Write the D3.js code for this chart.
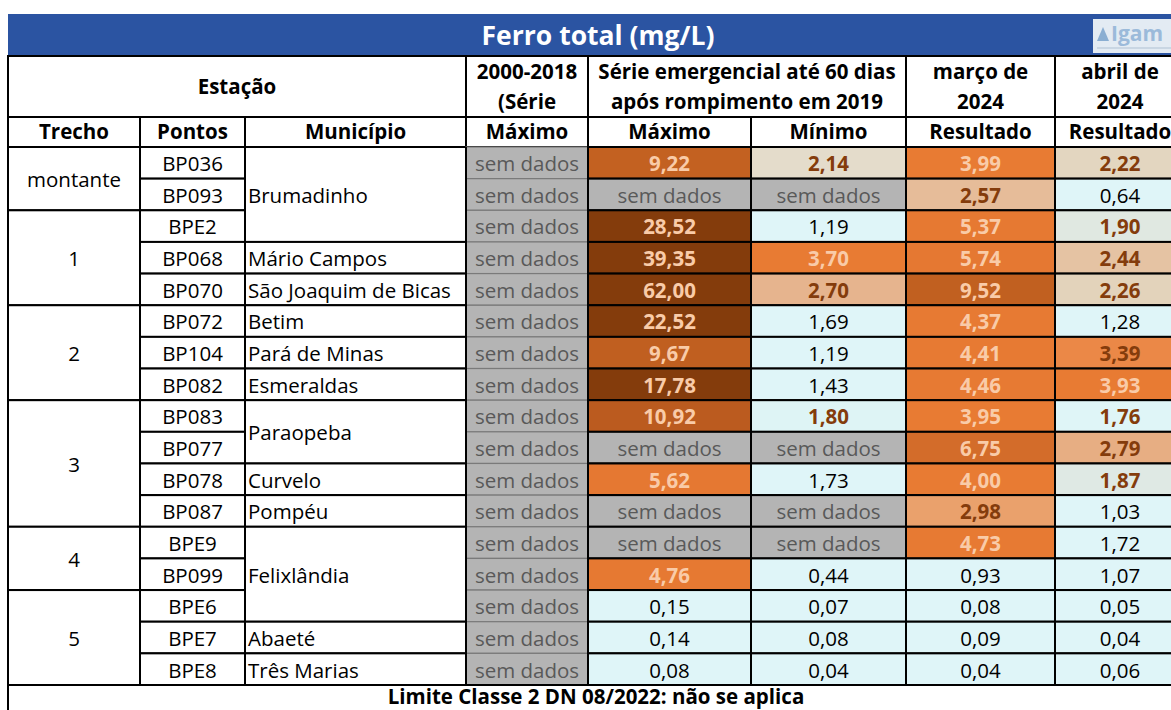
<!DOCTYPE html>
<html>
<head>
<meta charset="utf-8">
<script src="https://cdn.jsdelivr.net/npm/d3@7"></script>
<style>
  body { margin: 0; background: #fff; }
  text { font-family: "Open Sans", Lato, sans-serif; }
</style>
</head>
<body>
<svg class="chart"></svg>
<script>
// table data
var trechos = ["montante", "1", "2", "3", "4", "5"];
var trechoSpans = [2, 3, 3, 4, 2, 3];

var pontos = ["BP036", "BP093", "BPE2", "BP068", "BP070", "BP072", "BP104", "BP082",
              "BP083", "BP077", "BP078", "BP087", "BPE9", "BP099", "BPE6", "BPE7", "BPE8"];

var municipios = ["Brumadinho", "Mário Campos", "São Joaquim de Bicas", "Betim", "Pará de Minas",
                  "Esmeraldas", "Paraopeba", "Curvelo", "Pompéu", "Felixlândia", "Abaeté", "Três Marias"];
var municipioSpans = [3, 1, 1, 1, 1, 1, 2, 1, 1, 3, 1, 1];

// null = sem dados
var serieMax2018 = [null, null, null, null, null, null, null, null, null, null, null, null, null, null, null, null, null];
var emergMax = [9.22, null, 28.52, 39.35, 62.00, 22.52, 9.67, 17.78, 10.92, null, 5.62, null, null, 4.76, 0.15, 0.14, 0.08];
var emergMin = [2.14, null, 1.19, 3.70, 2.70, 1.69, 1.19, 1.43, 1.80, null, 1.73, null, null, 0.44, 0.07, 0.08, 0.04];
var marco2024 = [3.99, 2.57, 5.37, 5.74, 9.52, 4.37, 4.41, 4.46, 3.95, 6.75, 4.00, 2.98, 4.73, 0.93, 0.08, 0.09, 0.04];
var abril2024 = [2.22, 0.64, 1.90, 2.44, 2.26, 1.28, 3.39, 3.93, 1.76, 2.79, 1.87, 1.03, 1.72, 1.07, 0.05, 0.04, 0.06];

var titulo = "Ferro total (mg/L)";
var rodape = "Limite Classe 2 DN 08/2022: não se aplica";

var colKeys = ["trecho", "pontos", "municipio", "max2018", "emergMax", "emergMin", "marco", "abril"];
var colWidths = [132, 105, 221, 122, 163, 155, 149, 130];
var subHeaders = ["Trecho", "Pontos", "Município", "Máximo", "Máximo", "Mínimo", "Resultado", "Resultado"];

var Width = 1171, Height = 710,
    left = 8,
    titleTop = 14, titleBottom = 56,
    head1Top = 56, head2Top = 117, bodyTop = 147, bodyBottom = 685,
    fontSize = 20.5;

var chart = d3.select(".chart")
    .attr("width", Width)
    .attr("height", Height);

// column scale: key -> left edge
var edges = [left].concat(Array.from(d3.cumsum(colWidths)).map(function(d) { return d + left; }));
var x = d3.scaleOrdinal().domain(colKeys).range(edges.slice(0, -1));
var w = d3.scaleOrdinal().domain(colKeys).range(colWidths);
var tableRight = edges[edges.length - 1];

// row scale
var y = d3.scaleBand()
    .domain(d3.range(pontos.length))
    .range([bodyTop, bodyBottom]);

// colour ramp for the values
var fill = d3.scaleLinear()
    .domain([1.75, 1.8, 1.87, 2.14, 2.26, 2.44, 2.7, 2.98, 3.39, 3.7, 5.8, 6.75, 9.5, 11, 17])
    .range(["#dff5f8", "#def4f5", "#dfe9e4", "#e4dccb", "#e3d3bb", "#e5c3a3", "#e6b48e", "#eaa16c",
            "#eb8847", "#e87b33", "#e57832", "#d36c2a", "#c16020", "#bb5b1f", "#843c0c"])
    .clamp(true);

function fmt(v) { return d3.format(".2f")(v).replace(".", ","); }

function textColor(v) {
  if (v == null) return "#595959";
  if (v >= 3.5) return "#f9cba8";
  if (v > 1.75) return "#843c0c";
  return "#000";
}

// title bar
chart.append("rect")
    .attr("x", left).attr("y", titleTop)
    .attr("width", Width - left).attr("height", titleBottom - titleTop)
    .attr("fill", "#2b54a2");

chart.append("text")
    .attr("x", 598).attr("y", (titleTop + titleBottom) / 2)
    .attr("dy", ".36em")
    .attr("text-anchor", "middle")
    .attr("fill", "#fff")
    .attr("font-weight", "bold")
    .attr("font-size", 26.5)
    .text(titulo);

// logo
var logo = chart.append("g").attr("transform", "translate(1093,19)");
logo.append("rect").attr("width", 80).attr("height", 34).attr("fill", "#e3ebf3");
logo.append("path").attr("d", "M4,22 L10,8 L16,22 Z").attr("fill", "#8aaed2");
logo.append("text").attr("x", 18).attr("y", 22)
    .attr("font-size", 21).attr("font-weight", "bold").attr("fill", "#9bbada")
    .text("Igam");
logo.append("line").attr("x1", 4).attr("x2", 78).attr("y1", 29).attr("y2", 29)
    .attr("stroke", "#c9d6e3").attr("stroke-width", 2);

// header row 1
var head1 = [
  {x0: "trecho", x1: "municipio", lines: ["Estação"]},
  {x0: "max2018", x1: "max2018", lines: ["2000-2018", "(Série"]},
  {x0: "emergMax", x1: "emergMin", lines: ["Série emergencial até 60 dias", "após rompimento em 2019"]},
  {x0: "marco", x1: "marco", lines: ["março de", "2024"]},
  {x0: "abril", x1: "abril", lines: ["abril de", "2024"]}
];

var h1 = chart.selectAll("g.head1")
    .data(head1)
    .enter().append("g")
    .attr("class", "head1");

h1.append("rect")
    .attr("x", function(d) { return x(d.x0); })
    .attr("y", head1Top)
    .attr("width", function(d) { return x(d.x1) + w(d.x1) - x(d.x0); })
    .attr("height", head2Top - head1Top)
    .attr("fill", "#fff").attr("stroke", "#000").attr("stroke-width", 2);

h1.each(function(d) {
  var g = d3.select(this), cx = x(d.x0) + (x(d.x1) + w(d.x1) - x(d.x0)) / 2;
  d.lines.forEach(function(t, i) {
    var ty = d.lines.length == 1 ? (head1Top + head2Top) / 2 : head1Top + 16 + i * 30;
    g.append("text")
        .attr("x", cx).attr("y", ty)
        .attr("dy", ".36em")
        .attr("text-anchor", "middle")
        .attr("font-weight", "bold").attr("font-size", fontSize)
        .text(t);
  });
});

// header row 2
var h2 = chart.selectAll("g.head2")
    .data(colKeys)
    .enter().append("g")
    .attr("class", "head2");

h2.append("rect")
    .attr("x", function(d) { return x(d); })
    .attr("y", head2Top)
    .attr("width", function(d) { return w(d); })
    .attr("height", bodyTop - head2Top)
    .attr("fill", "#fff").attr("stroke", "#000").attr("stroke-width", 2);

h2.append("text")
    .attr("x", function(d) { return x(d) + w(d) / 2; })
    .attr("y", (head2Top + bodyTop) / 2)
    .attr("dy", ".36em")
    .attr("text-anchor", "middle")
    .attr("font-weight", "bold").attr("font-size", fontSize)
    .text(function(d, i) { return subHeaders[i]; });

// merged cells helper
function spans(labels, sizes) {
  var start = 0;
  return labels.map(function(l, i) {
    var s = {label: l, start: start, end: start + sizes[i] - 1};
    start += sizes[i];
    return s;
  });
}

function mergedColumn(key, data, anchor) {
  var g = chart.selectAll("g." + key)
      .data(data)
      .enter().append("g")
      .attr("class", key);

  g.append("rect")
      .attr("x", x(key))
      .attr("y", function(d) { return y(d.start); })
      .attr("width", w(key))
      .attr("height", function(d) { return y(d.end) + y.bandwidth() - y(d.start); })
      .attr("fill", "#fff").attr("stroke", "#000").attr("stroke-width", 2);

  g.append("text")
      .attr("x", anchor == "start" ? x(key) + 3 : x(key) + w(key) / 2)
      .attr("y", function(d) { return (y(d.start) + y(d.end) + y.bandwidth()) / 2 + 1; })
      .attr("dy", ".36em")
      .attr("text-anchor", anchor)
      .attr("font-size", fontSize)
      .text(function(d) { return d.label; });
}

mergedColumn("trecho", spans(trechos, trechoSpans), "middle");
mergedColumn("municipio", spans(municipios, municipioSpans), "start");

// pontos
var pt = chart.selectAll("g.ponto")
    .data(pontos)
    .enter().append("g")
    .attr("class", "ponto");

pt.append("rect")
    .attr("x", x("pontos"))
    .attr("y", function(d, i) { return y(i); })
    .attr("width", w("pontos"))
    .attr("height", y.bandwidth())
    .attr("fill", "#fff").attr("stroke", "#000").attr("stroke-width", 2);

pt.append("text")
    .attr("x", x("pontos") + w("pontos") / 2)
    .attr("y", function(d, i) { return y(i) + y.bandwidth() / 2 + 1; })
    .attr("dy", ".36em")
    .attr("text-anchor", "middle")
    .attr("font-size", fontSize)
    .text(function(d) { return d; });

// value columns
var valueCols = [
  {key: "max2018", values: serieMax2018},
  {key: "emergMax", values: emergMax},
  {key: "emergMin", values: emergMin},
  {key: "marco", values: marco2024},
  {key: "abril", values: abril2024}
];

valueCols.forEach(function(col) {
  var cells = chart.selectAll("g.cell-" + col.key)
      .data(col.values)
      .enter().append("g")
      .attr("class", "cell-" + col.key);

  cells.append("rect")
      .attr("x", x(col.key))
      .attr("y", function(d, i) { return y(i); })
      .attr("width", w(col.key))
      .attr("height", y.bandwidth())
      .attr("fill", function(d) { return d == null ? "#b4b4b4" : fill(d); })
      .attr("stroke", col.key == "max2018" ? "#7a7a7a" : "#000")
      .attr("stroke-width", col.key == "max2018" ? 1.2 : 2);

  cells.append("text")
      .attr("x", x(col.key) + w(col.key) / 2)
      .attr("y", function(d, i) { return y(i) + y.bandwidth() / 2 + 1; })
      .attr("dy", ".36em")
      .attr("text-anchor", "middle")
      .attr("font-size", fontSize)
      .attr("font-weight", function(d) { return d != null && d > 1.75 ? "bold" : "normal"; })
      .attr("fill", textColor)
      .text(function(d) { return d == null ? "sem dados" : fmt(d); });
});

// black verticals on both sides of the grey column
[x("max2018"), x("emergMax")].forEach(function(xx) {
  chart.append("line")
      .attr("x1", xx).attr("x2", xx)
      .attr("y1", bodyTop).attr("y2", bodyBottom)
      .attr("stroke", "#000").attr("stroke-width", 2);
});

// footer
chart.append("rect")
    .attr("x", left).attr("y", bodyBottom)
    .attr("width", tableRight - left).attr("height", 60)
    .attr("fill", "#fff").attr("stroke", "#000").attr("stroke-width", 2);

chart.append("text")
    .attr("x", 596).attr("y", 697)
    .attr("dy", ".36em")
    .attr("text-anchor", "middle")
    .attr("font-weight", "bold").attr("font-size", fontSize)
    .text(rodape);
</script>
</body>
</html>
